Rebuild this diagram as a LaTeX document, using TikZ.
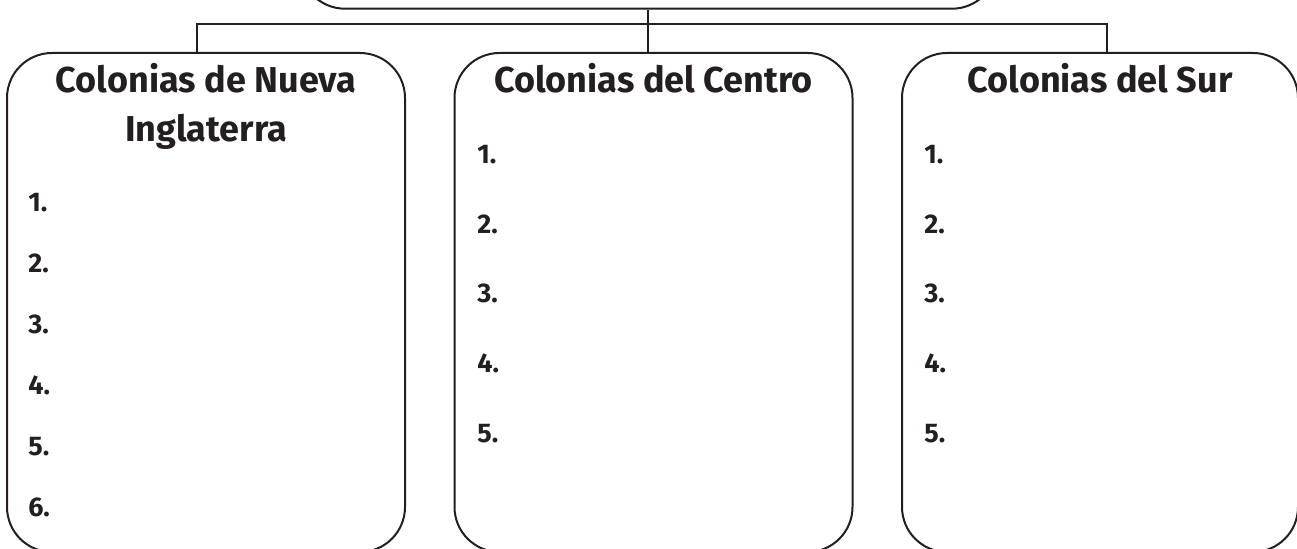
\documentclass[tikz,border=0pt]{standalone}
\usepackage{fontspec}
\setmainfont{Fira Sans}
\usepackage{tikz}
\definecolor{ink}{HTML}{231F20}

\begin{document}
\begin{tikzpicture}[x=0.5pt,y=-0.5pt,
    caja/.style={draw=ink, line width=1pt, rounded corners=22.5pt, minimum width=199pt, minimum height=249.5pt, inner sep=0pt},
    titulo/.style={font=\fontsize{18}{22}\selectfont\bfseries, text=ink, anchor=base, inner sep=0pt},
    num/.style={font=\fontsize{13.5}{15}\selectfont\bfseries, text=ink, anchor=base west, inner sep=0pt},
    enlace/.style={draw=ink, line width=0.75pt}]
            % Frame
            \useasboundingbox (0,0) rectangle (1297,549);
            \clip (0,0) rectangle (1297,549);

            % Top box (cut by the edge)
            \node[caja, minimum width=348.5pt, minimum height=30pt] (top) at (648.5,-21.3) {};

            % Three boxes
            \node[caja] (ne) at (206,302.5) {};
            \node[caja] (centro) at (653.5,302.5) {};
            \node[caja, minimum width=198pt] (sur) at (1100,302.5) {};

            % Connectors
            \coordinate (busL) at (197,24);
            \coordinate (busR) at (1107,24);
            \draw[enlace] (top.south -| 648,0) -- (648,0 |- centro.north);
            \draw[enlace] (busL |- ne.north) -- (busL) -- (busR) -- (busR |- sur.north);

            % Titles
            \node[titulo] (t-ne) at (206,93) {Colonias de Nueva};
            \node[titulo] (t-ne2) at (206,142) {Inglaterra};
            \node[titulo] (t-centro) at (653.5,93) {Colonias del Centro};
            \node[titulo] (t-sur) at (1100,93) {Colonias del Sur};

            % Colonias de Nueva Inglaterra
            \node[num] (ne-1) at (28,212) {1.};
            \node[num] (ne-2) at (28,273) {2.};
            \node[num] (ne-3) at (28,334) {3.};
            \node[num] (ne-4) at (28,395) {4.};
            \node[num] (ne-5) at (28,456) {5.};
            \node[num] (ne-6) at (28,517) {6.};

            % Colonias del Centro
            \node[num] (c-1) at (477,164) {1.};
            \node[num] (c-2) at (477,234) {2.};
            \node[num] (c-3) at (477,303) {3.};
            \node[num] (c-4) at (477,373) {4.};
            \node[num] (c-5) at (477,443) {5.};

            % Colonias del Sur
            \node[num] (s-1) at (924,164) {1.};
            \node[num] (s-2) at (924,234) {2.};
            \node[num] (s-3) at (924,303) {3.};
            \node[num] (s-4) at (924,373) {4.};
            \node[num] (s-5) at (924,443) {5.};
\end{tikzpicture}
\end{document}
